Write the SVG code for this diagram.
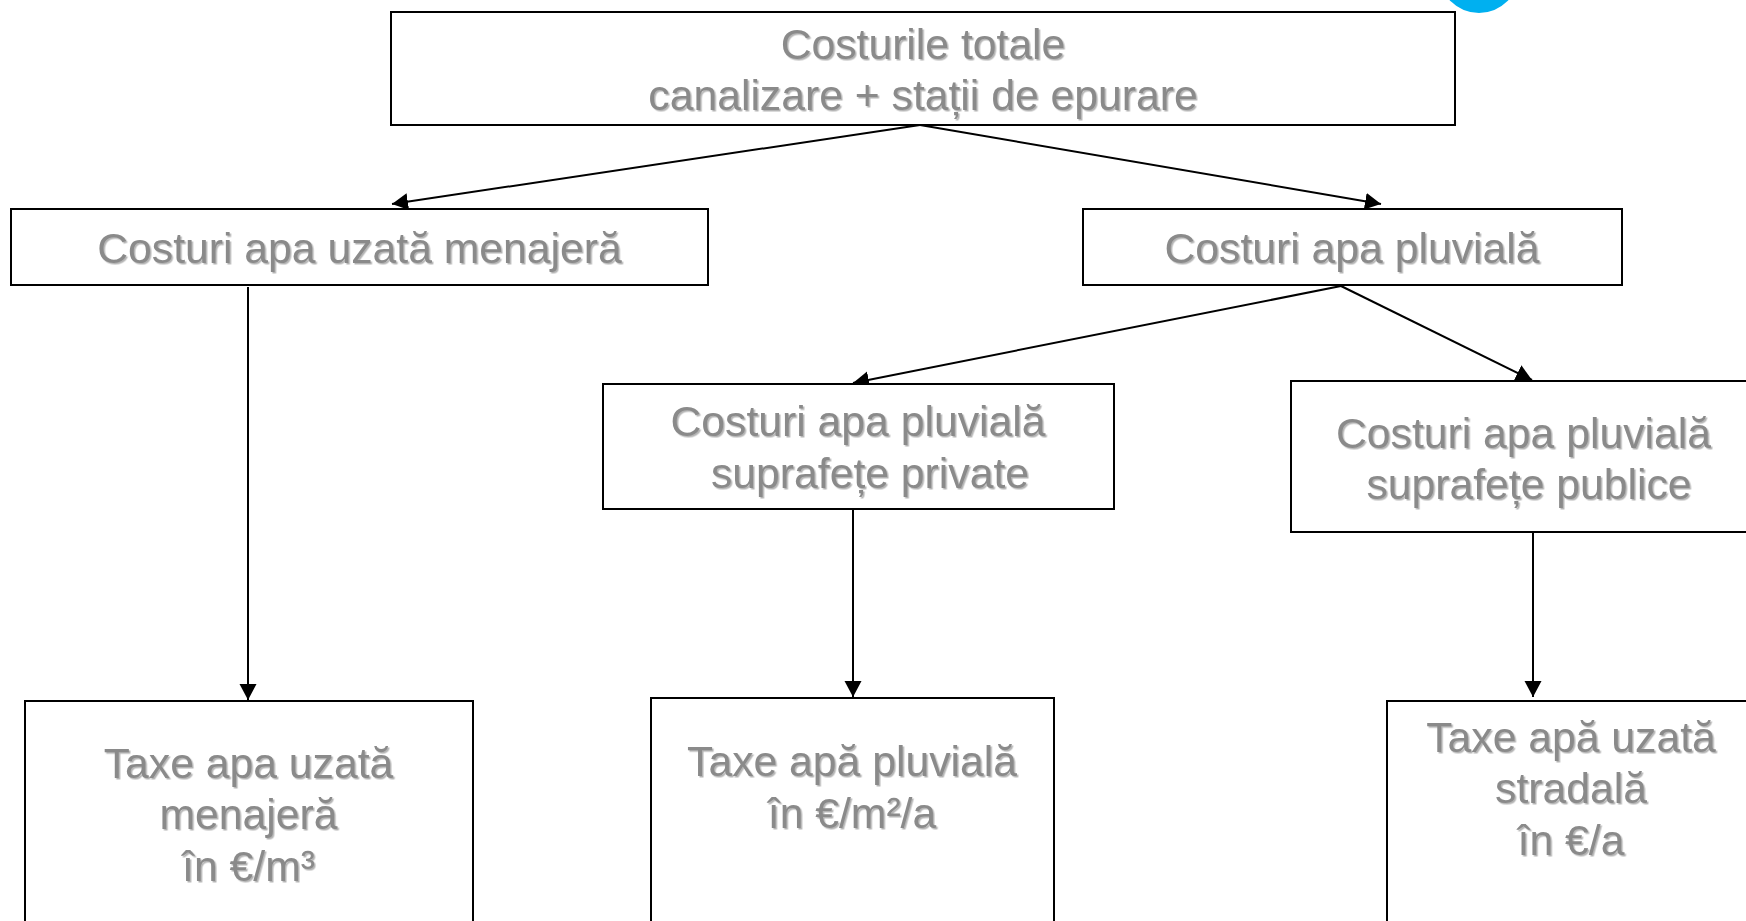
<svg xmlns="http://www.w3.org/2000/svg" width="1746" height="921" viewBox="0 0 1746 921">
<style>
.b{fill:#fff;stroke:#000;stroke-width:2}
.t{font-family:"Liberation Sans",Arial,sans-serif;font-size:42.7px;fill:#8a8a8a;text-anchor:middle;filter:url(#s)}
.c{fill:none;stroke:#000;stroke-width:2;marker-end:url(#a)}
</style>
<defs>
<marker id="a" markerUnits="userSpaceOnUse" markerWidth="18" markerHeight="18" refX="16" refY="8.5" orient="auto"><path d="M0 0L16 8.5L0 17Z" fill="#000"/></marker>
<filter id="s" x="-5%" y="-10%" width="110%" height="125%"><feDropShadow dx="1.5" dy="1.5" stdDeviation="0.3" flood-color="#b4b4b4"/></filter>
</defs>
<rect width="1746" height="921" fill="#fff"/>
<circle id="badge" cx="1479" cy="-27" r="40" fill="#00b0f0"/>
<g id="connectors">
<path class="c" d="M920 125L392 204"/>
<path class="c" d="M920 125L1381 204"/>
<path class="c" d="M1341 286L853 383"/>
<path class="c" d="M1341 286L1532 380"/>
<path class="c" d="M248 287V700"/>
<path class="c" d="M853 509V697"/>
<path class="c" d="M1533 532V697"/>
</g>
<g id="n1"><rect class="b" x="391" y="12" width="1064" height="113"/><text class="t" x="923" y="59.3">Costurile totale</text><text class="t" x="923" y="110.3">canalizare + stații de epurare</text></g>
<g id="n2"><rect class="b" x="11" y="209" width="697" height="76"/><text class="t" x="359.5" y="263">Costuri apa uzată menajeră</text></g>
<g id="n3"><rect class="b" x="1083" y="209" width="539" height="76"/><text class="t" x="1352" y="263">Costuri apa pluvială</text></g>
<g id="n4"><rect class="b" x="603" y="384" width="511" height="125"/><text class="t" x="858" y="435.5">Costuri apa pluvială</text><text class="t" x="870" y="487.5">suprafețe private</text></g>
<g id="n5"><rect class="b" x="1291" y="381" width="480" height="151"/><text class="t" x="1523.5" y="447.5">Costuri apa pluvială</text><text class="t" x="1529" y="498.5">suprafețe publice</text></g>
<g id="n6"><rect class="b" x="25" y="701" width="448" height="240"/><text class="t" x="248.5" y="778">Taxe apa uzată</text><text class="t" x="248.5" y="829">menajeră</text><text class="t" x="248.5" y="880.5">în €/m³</text></g>
<g id="n7"><rect class="b" x="651" y="698" width="403" height="240"/><text class="t" x="852" y="776">Taxe apă pluvială</text><text class="t" x="852" y="828">în €/m²/a</text></g>
<g id="n8"><rect class="b" x="1387" y="701" width="400" height="240"/><text class="t" x="1571" y="752">Taxe apă uzată</text><text class="t" x="1571" y="803">stradală</text><text class="t" x="1571" y="855">în €/a</text></g>
</svg>
